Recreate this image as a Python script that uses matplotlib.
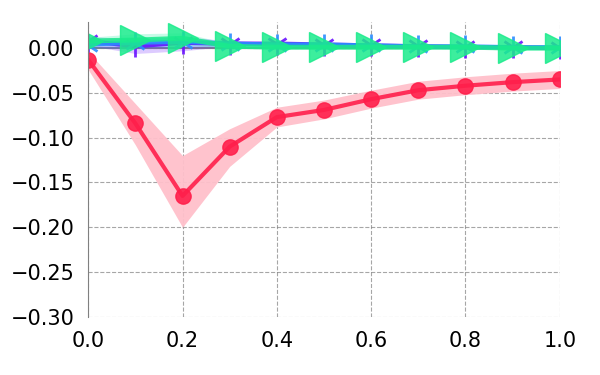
import numpy as np
import matplotlib
matplotlib.use('Agg')
import matplotlib.pyplot as plt

x = [0.0, 0.1, 0.2, 0.3, 0.4, 0.5, 0.6, 0.7, 0.8, 0.9, 1.0]

red = [-0.013, -0.084, -0.165, -0.110, -0.077, -0.069, -0.057, -0.047, -0.042, -0.038, -0.035]
red_lo = [-0.024, -0.108, -0.200, -0.132, -0.088, -0.079, -0.067, -0.057, -0.052, -0.048, -0.045]
red_hi = [-0.004, -0.062, -0.120, -0.090, -0.066, -0.058, -0.047, -0.037, -0.032, -0.028, -0.025]

purple = [0.008, 0.002, 0.006, 0.005, 0.005, 0.004, 0.003, 0.002, 0.001, 0.001, 0.000]
purple_lo = [0.003, -0.006, -0.003, 0.002, 0.003, 0.002, 0.001, 0.000, -0.001, -0.001, -0.002]
purple_hi = [0.013, 0.010, 0.013, 0.008, 0.007, 0.006, 0.005, 0.004, 0.003, 0.003, 0.002]

blue = [0.004, 0.006, 0.007, 0.005, 0.004, 0.004, 0.003, 0.002, 0.002, 0.001, 0.001]
blue_lo = [0.000, 0.000, 0.001, 0.002, 0.002, 0.002, 0.001, 0.000, 0.000, -0.001, -0.001]
blue_hi = [0.008, 0.012, 0.012, 0.008, 0.006, 0.006, 0.005, 0.004, 0.004, 0.003, 0.003]

green = [0.008, 0.009, 0.011, 0.002, 0.001, 0.001, 0.001, 0.001, 0.001, 0.000, 0.000]
green_lo = [0.004, 0.002, 0.004, 0.000, -0.001, -0.001, -0.001, -0.001, -0.001, -0.002, -0.002]
green_hi = [0.012, 0.016, 0.017, 0.005, 0.003, 0.003, 0.003, 0.003, 0.003, 0.002, 0.002]

fig = plt.figure(figsize=(6, 3.75), dpi=100)
ax = fig.add_axes([0.147, 0.155, 0.786, 0.786])

ax.axhline(0, color='gray', lw=1.5, zorder=1)

ax.fill_between(x, red_lo, red_hi, color='pink', alpha=0.95, lw=0)
ax.plot(x, red, color='#ff1f4b', lw=3, marker='o', ms=11, alpha=0.9)

ax.fill_between(x, purple_lo, purple_hi, color='#7a30ff', alpha=0.25, lw=0)
ax.plot(x, purple, color='#6a10ff', lw=3, marker='1', ms=16, mew=2, alpha=0.9)

ax.fill_between(x, blue_lo, blue_hi, color='#2a90ff', alpha=0.25, lw=0)
ax.plot(x, blue, color='#2a8cff', lw=3, marker='2', ms=16, mew=2, alpha=0.9)

ax.fill_between(x, green_lo, green_hi, color='#20f0a0', alpha=0.25, lw=0)
ax.plot(x, green, color='#1aeb8c', lw=3.5, marker='>', ms=21, alpha=0.85)

ax.set_xlim(0, 1.0)
ax.set_ylim(-0.30, 0.029)
ax.set_xticks([0.0, 0.2, 0.4, 0.6, 0.8, 1.0])
ax.set_yticks([0.00, -0.05, -0.10, -0.15, -0.20, -0.25, -0.30])
ax.grid(True, ls='--', color='gray', alpha=0.7, lw=0.8)
ax.set_axisbelow(True)
for s in ['top', 'right', 'bottom']:
    ax.spines[s].set_visible(False)
ax.spines['left'].set_color('gray')
ax.tick_params(labelsize=15, length=0, pad=10)

fig.savefig('out.png', dpi=100)
